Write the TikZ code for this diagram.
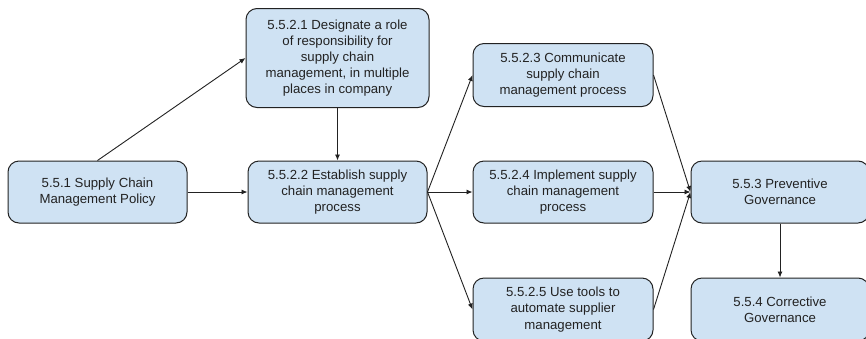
\documentclass[tikz,border=0pt]{standalone}
\usepackage{fontspec}
\setmainfont{Liberation Sans}
\usetikzlibrary{arrows.meta}
\definecolor{boxfill}{HTML}{CFE2F3}
\definecolor{boxline}{HTML}{222222}
\definecolor{txt}{HTML}{222222}
\begin{document}
\begin{tikzpicture}[x=1pt,y=-1pt,
  box/.style={draw=boxline, line width=1pt, fill=boxfill, rounded corners=11pt,
    align=center, text=txt, inner sep=0pt,
    font=\fontsize{13.2}{16.2}\selectfont},
  conn/.style={draw=boxline, line width=0.9pt, -{Latex[length=6pt,width=5pt]}}]
\useasboundingbox (0,0) rectangle (866,338);
\clip (0,0) rectangle (866,338);
\fill[white] (0,0) rectangle (866,338);
\node[box, minimum width=179pt, minimum height=62pt] (a) at (97.5,192) {5.5.1 Supply Chain\\Management Policy};
\node[box, minimum width=183pt, minimum height=99pt] (b) at (337.5,58) {5.5.2.1 Designate a role\\of responsibility for\\supply chain\\management, in multiple\\places in company};
\node[box, minimum width=179pt, minimum height=62pt] (c) at (337.5,192) {5.5.2.2 Establish supply\\chain management\\process};
\node[box, minimum width=180pt, minimum height=63pt] (d) at (563,75) {5.5.2.3 Communicate\\supply chain\\management process};
\node[box, minimum width=180pt, minimum height=62pt] (e) at (563,192) {5.5.2.4 Implement supply\\chain management\\process};
\node[box, minimum width=180pt, minimum height=63pt] (f) at (563,309.5) {5.5.2.5 Use tools to\\automate supplier\\management};
\node[box, minimum width=178pt, minimum height=62pt] (g) at (780,192) {5.5.3 Preventive\\Governance};
\node[box, minimum width=178pt, minimum height=63pt] (h) at (780,309.5) {5.5.4 Corrective\\Governance};
\draw[conn] (a.north) -- (b.west);
\draw[conn] (a.east) -- (c.west);
\draw[conn] (b.south) -- (c.north);
\draw[conn] (c.east) -- (d.west);
\draw[conn] (c.east) -- (e.west);
\draw[conn] (c.east) -- (f.west);
\draw[conn] (d.east) -- (g.west);
\draw[conn] (e.east) -- (g.west);
\draw[conn] (f.east) -- (g.west);
\draw[conn] (g.south) -- (h.north);
\end{tikzpicture}
\end{document}
